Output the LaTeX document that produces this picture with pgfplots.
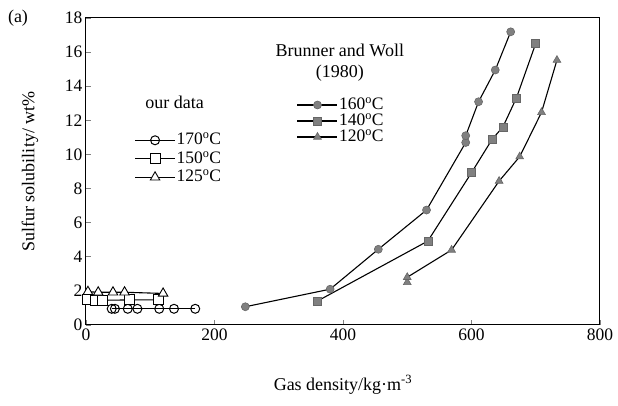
\documentclass[border=0pt]{standalone}
\usepackage{fontspec}
\setmainfont{Liberation Serif}
\usepackage{pgfplots}
\pgfplotsset{compat=1.18}
\definecolor{mk}{gray}{0.5}
\begin{document}
\begin{tikzpicture}
\pgfplotsset{
  base/.style={
    scale only axis, width=514pt, height=307pt,
    xmin=0, xmax=800, ymin=0, ymax=18,
    at={(0,0)}, anchor=south west,
    /pgf/number format/assume math mode=true,
    every axis plot/.append style={line width=1.1pt},
    legend image code/.code={\draw[mark repeat=2,mark phase=2] plot coordinates {(0pt,0pt) (20pt,0pt) (40pt,0pt)};},
  },
  lg/.style={draw=none, fill=none, inner sep=0pt, row sep=#1,
     cells={anchor=west}, font=\fontsize{17.5}{20}\selectfont,
     nodes={inner sep=1pt, text height=12pt, text depth=3pt}},
}
\begin{axis}[base,
  axis line style={line width=1pt},
  xtick={0,200,400,600,800}, ytick={0,2,...,18},
  tick align=inside, xtick pos=bottom, ytick pos=left,
  major tick length=5pt, tick style={line width=0.9pt},
  tick label style={font=\fontsize{17.5}{20}\selectfont},
  xlabel={Gas density/kg·m\textsuperscript{-3}},
  ylabel={Sulfur solubility/ wt\%},
  label style={font=\fontsize{18}{20}\selectfont},
  xlabel style={at={(axis description cs:0.5,-0.195)}, anchor=center},
  ylabel style={at={(axis description cs:-0.109,0.5)}, anchor=center},
  legend style={lg=1.5pt, at={(rel axis cs:0.094,0.630)}, anchor=north west},
  clip=false,
]
\addplot[black, mark=o, mark size=4.5pt, mark options={fill=white,line width=1pt}] coordinates {
(40,0.95) (45,0.95) (65,0.95) (80,0.95) (114,0.95) (137,0.95) (170,0.95)};
\addlegendentry{170\textsuperscript{o}C}
\addplot[black, mark=square*, mark size=5pt, mark options={fill=white,line width=0.9pt}] coordinates {
(2,1.52) (14,1.45) (26,1.45) (68,1.47) (112,1.47)};
\addlegendentry{150\textsuperscript{o}C}
\addplot[black, mark=triangle*, mark size=5.5pt, mark options={fill=white,line width=0.9pt}] coordinates {
(3,1.95) (19,1.92) (42,1.92) (60,1.92) (120,1.85)};
\addlegendentry{125\textsuperscript{o}C}
\node[font=\fontsize{18}{20}\selectfont] at (axis cs:138,13.07) {our data};
\node[font=\fontsize{18}{20}\selectfont] at (axis cs:395,16.1) {Brunner and Woll};
\node[font=\fontsize{18}{20}\selectfont] at (axis cs:395,14.75) {(1980)};
\end{axis}
\begin{axis}[base, hide axis,
  legend style={lg=-1pt, at={(rel axis cs:0.41,0.745)}, anchor=north west},
]
\addplot[black, mark=*, mark size=4pt, mark options={fill=mk,draw=black!60,line width=0.6pt}] coordinates {
(248,1.07) (380,2.1) (455,4.44) (530,6.74) (591,10.7) (591,11.1) (611,13.09) (637,14.95) (661,17.19)};
\addlegendentry{160\textsuperscript{o}C}
\addplot[black, mark=square*, mark size=4pt, mark options={fill=mk,draw=black!60,line width=0.6pt}] coordinates {
(360,1.4) (532,4.92) (600,8.93) (632,10.88) (649,11.62) (670,13.32) (700,16.51)};
\addlegendentry{140\textsuperscript{o}C}
\addplot[black, mark=triangle*, mark size=4.5pt, mark options={fill=mk,draw=black!60,line width=0.6pt}] coordinates {
(500,2.5) (500,2.8) (569,4.40) (643,8.44) (675,9.87) (709,12.47) (733,15.53)};
\addlegendentry{120\textsuperscript{o}C}
\end{axis}
\node[font=\fontsize{18}{20}\selectfont] at (-68pt,307pt) {(a)};
\pgfresetboundingbox
\path (-86pt,-81pt) rectangle (532pt,325pt);
\end{tikzpicture}
\end{document}
